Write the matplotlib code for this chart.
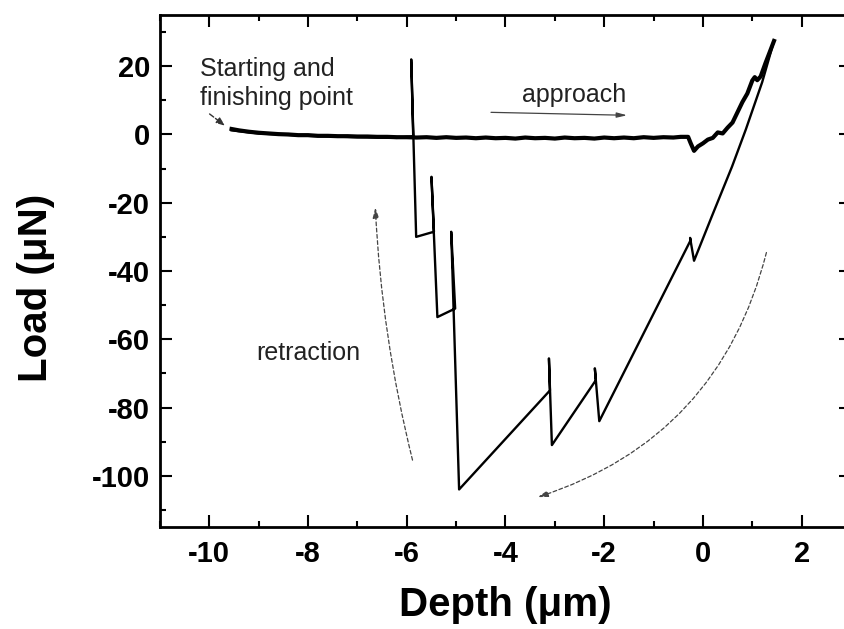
import matplotlib
matplotlib.use("Agg")
import matplotlib.pyplot as plt
from matplotlib.ticker import MultipleLocator

# ---- data ----
approach_depth = [-9.55, -9.4, -9.2, -9.0, -8.8, -8.6, -8.4, -8.2, -8.0, -7.8, -7.6, -7.4,
                  -7.2, -7.0, -6.8, -6.6, -6.4, -6.2, -6.0, -5.8, -5.6, -5.4, -5.2, -5.0,
                  -4.8, -4.6, -4.4, -4.2, -4.0, -3.8, -3.6, -3.4, -3.2, -3.0, -2.8, -2.6,
                  -2.4, -2.2, -2.0, -1.8, -1.6, -1.4, -1.2, -1.0, -0.8, -0.6, -0.45, -0.3,
                  -0.25, -0.18, -0.1, 0.0, 0.1, 0.2, 0.3, 0.4, 0.5, 0.6, 0.7, 0.8, 0.9,
                  1.0, 1.05, 1.1, 1.17, 1.27, 1.35, 1.44]
approach_load = [1.6, 1.2, 0.8, 0.5, 0.3, 0.1, 0.0, -0.2, -0.2, -0.4, -0.4, -0.5,
                 -0.5, -0.6, -0.6, -0.7, -0.7, -0.8, -0.8, -0.9, -0.8, -1.0, -0.8, -1.0,
                 -0.9, -1.1, -0.9, -1.1, -1.0, -1.2, -0.9, -1.1, -1.0, -1.2, -0.9, -1.1,
                 -1.0, -1.2, -0.9, -1.1, -0.9, -1.1, -0.8, -1.0, -0.8, -0.9, -0.7, -0.7,
                 -2.5, -4.8, -3.5, -2.6, -1.5, -1.0, 0.6, 0.3, 2.0, 3.5, 6.5, 9.5, 12.0,
                 15.8, 16.8, 15.9, 17.0, 21.0, 24.0, 27.4]

retract_depth = [1.44, 1.2, 0.87, 0.59, 0.18, -0.18, -0.26, -0.25, -2.1, -2.19, -2.17,
                 -3.06, -3.12, -3.1, -4.94, -5.1, -5.02, -5.38, -5.5, -5.45, -5.81,
                 -5.91, -5.87, -6.2, -7.0, -8.0, -9.0, -9.55]
retract_load = [27.4, 15.3, 1.5, -9.4, -24.0, -37.0, -30.3, -31.0, -84.0, -68.5, -72.0,
                -91.0, -65.6, -75.0, -104.0, -28.5, -51.0, -53.5, -12.4, -28.5, -30.0,
                22.0, -0.5, -1.0, -0.8, -0.4, 0.3, 1.2]

x_ticks = [-10, -8, -6, -4, -2, 0, 2]
y_ticks = [20, 0, -20, -40, -60, -80, -100]

# ---- figure ----
fig = plt.figure(figsize=(8.45, 6.29), dpi=100)
ax = fig.add_axes([160 / 845, 102 / 629, 691 / 845, 512 / 629])

ax.plot(approach_depth, approach_load, color="black", lw=3.0, solid_joinstyle="round")
ax.plot(retract_depth, retract_load, color="black", lw=1.7, solid_joinstyle="round")

ax.set_xlim(-11, 3)
ax.set_ylim(-115, 35)
ax.set_xticks(x_ticks)
ax.set_yticks(y_ticks)
ax.xaxis.set_minor_locator(MultipleLocator(1))
ax.yaxis.set_minor_locator(MultipleLocator(10))

tick_font = dict(family="Liberation Sans", weight="bold", size=21)
ax.set_xticklabels([str(v) for v in x_ticks], fontdict=tick_font)
ax.set_yticklabels([str(v) for v in y_ticks], fontdict=tick_font)

ax.tick_params(which="both", direction="in", top=True, right=True, width=1.5)
ax.tick_params(which="major", length=8.6)
ax.tick_params(which="minor", length=4.3)
ax.tick_params(axis="y", which="major", pad=7)
ax.tick_params(axis="x", which="major", pad=9)
for s in ax.spines.values():
    s.set_linewidth(2.0)

label_font = dict(family="Liberation Sans", weight="bold", size=29)
ax.set_xlabel("Depth (\u03bcm)", fontdict=label_font)
ax.set_ylabel("Load (\u03bcN)", fontdict=label_font)
ax.xaxis.set_label_coords(0.5, -0.115)
ax.yaxis.set_label_coords(-0.152, 0.467)

# ---- annotations ----
ann_font = dict(family="Liberation Sans", size=18, color="#222222")
ax.text(-10.18, 17.0, "Starting and", va="baseline", ha="left", **ann_font)
ax.text(-10.18, 8.5, "finishing point", va="baseline", ha="left", **ann_font)
ax.text(-3.66, 9.4, "approach", va="baseline", ha="left", **ann_font)
ax.text(-9.05, -66.2, "retraction", va="baseline", ha="left", **ann_font)

ax.annotate("", xy=(-9.64, 2.1), xytext=(-10.04, 6.5),
            arrowprops=dict(arrowstyle="-|>,head_length=0.5,head_width=0.2",
                            color="#333333", lw=1.0, linestyle="--"))
ax.annotate("", xy=(-1.48, 5.6), xytext=(-4.35, 6.5),
            arrowprops=dict(arrowstyle="-|>,head_length=0.6,head_width=0.15",
                            color="#444444", lw=0.9))
ax.annotate("", xy=(-6.64, -20.6), xytext=(-5.87, -96.2),
            arrowprops=dict(arrowstyle="-|>,head_length=0.6,head_width=0.18",
                            color="#444444", lw=0.9, linestyle=(0, (3, 2)),
                            connectionstyle="arc3,rad=-0.05"))
ax.annotate("", xy=(-3.4, -106.5), xytext=(1.3, -33.8),
            arrowprops=dict(arrowstyle="-|>,head_length=0.6,head_width=0.18",
                            color="#444444", lw=0.9, linestyle=(0, (3, 2)),
                            connectionstyle="arc3,rad=-0.28"))

fig.savefig("out.png", dpi=100)
